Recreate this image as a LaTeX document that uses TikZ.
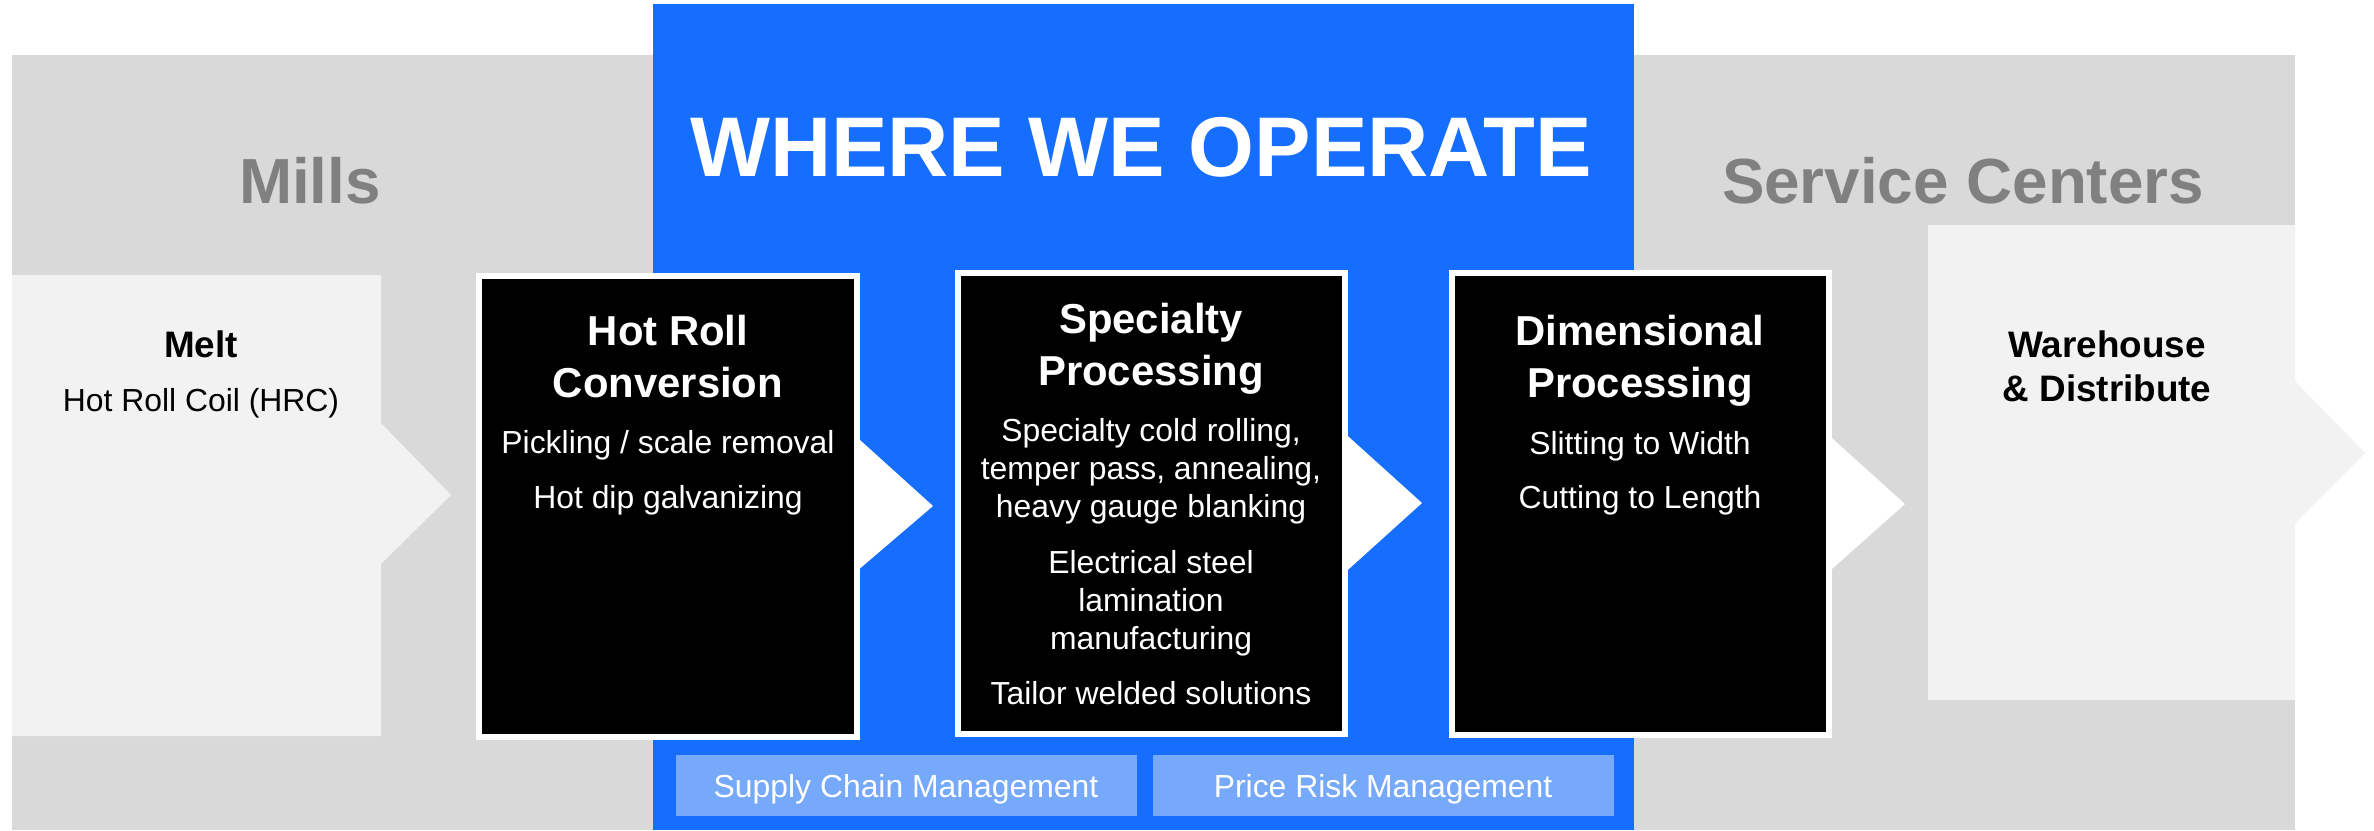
\documentclass[tikz,border=0pt]{standalone}
\usepackage{fontspec}
\setmainfont{Liberation Sans}
\definecolor{band}{HTML}{D9D9D9}
\definecolor{pale}{HTML}{F2F2F2}
\definecolor{opblue}{HTML}{166EFE}
\definecolor{lightblue}{HTML}{76A9FA}
\definecolor{greytext}{HTML}{808080}
\tikzset{
  body/.style={anchor=base, inner sep=0pt, font=\fontsize{32}{38}\selectfont, text=white},
  darkbody/.style={body, text=black},
  boxtitle/.style={anchor=base, inner sep=0pt, font=\bfseries\fontsize{42}{50}\selectfont, text=white},
  paletitle/.style={anchor=base, inner sep=0pt, font=\bfseries\fontsize{37}{44}\selectfont, text=black},
  bandtitle/.style={anchor=base, inner sep=0pt, font=\bfseries\fontsize{64}{70}\selectfont, text=greytext},
  stagebox/.style={fill=black, draw=white, line width=6bp},
  chevron/.style={fill=white},
  palearrow/.style={fill=pale},
  servicebox/.style={fill=lightblue}
}
\begin{document}
\begin{tikzpicture}[x=1bp,y=-1bp]
\useasboundingbox (0,0) rectangle (2374,830);
% background band and blue area
\fill[band] (12,55) rectangle (2295,830);
\fill[opblue] (653,4) rectangle (1634,830);
% pale arrows
\fill[palearrow] (12,275) -- (381,275) -- (381,423) -- (451,495) -- (381,564) -- (381,736) -- (12,736) -- cycle;
\fill[palearrow] (1928,225) -- (2295,225) -- (2295,381) -- (2365,453) -- (2295,523) -- (2295,700) -- (1928,700) -- cycle;
% white chevrons
\fill[chevron] (850,431) -- (933,506) -- (850,577) -- cycle;
\fill[chevron] (1340,429) -- (1422,503) -- (1340,577) -- cycle;
\fill[chevron] (1824,431) -- (1905,504) -- (1824,576) -- cycle;
% stage boxes
\draw[stagebox] (479,276) rectangle (857,737);
\draw[stagebox] (958,273) rectangle (1345,734);
\draw[stagebox] (1452,273) rectangle (1829,735);
% service boxes
\fill[servicebox] (676,755) rectangle (1137,816);
\fill[servicebox] (1153,755) rectangle (1614,816);
% headings
\node[bandtitle] (mills) at (310,203) {Mills};
\node[bandtitle] (service) at (1963,203) {Service Centers};
\node[anchor=base, inner sep=0pt, font=\bfseries\fontsize{85}{90}\selectfont, text=white] (where) at (1141,176) {WHERE WE OPERATE};
% melt
\node[paletitle] (melt) at (201,357) {Melt};
\node[darkbody] (hrc) at (201,411) {Hot Roll Coil (HRC)};
% hot roll conversion
\node[boxtitle] (hr1) at (668,345) {Hot Roll};
\node[boxtitle] (hr2) at (668,397) {Conversion};
\node[body] (hr3) at (668,453) {Pickling / scale removal};
\node[body] (hr4) at (668,508) {Hot dip galvanizing};
% specialty processing
\node[boxtitle] (sp1) at (1151,333) {Specialty};
\node[boxtitle] (sp2) at (1151,385) {Processing};
\node[body] (sp3) at (1151,441) {Specialty cold rolling,};
\node[body] (sp4) at (1151,479) {temper pass, annealing,};
\node[body] (sp5) at (1151,517) {heavy gauge blanking};
\node[body] (sp6) at (1151,573) {Electrical steel};
\node[body] (sp7) at (1151,611) {lamination};
\node[body] (sp8) at (1151,649) {manufacturing};
\node[body] (sp9) at (1151,704) {Tailor welded solutions};
% dimensional processing
\node[boxtitle] (dp1) at (1640,345) {Dimensional};
\node[boxtitle] (dp2) at (1640,397) {Processing};
\node[body] (dp3) at (1640,454) {Slitting to Width};
\node[body] (dp4) at (1640,508) {Cutting to Length};
% warehouse
\node[paletitle] (wh1) at (2107,357) {Warehouse};
\node[paletitle] (wh2) at (2107,401) {\& Distribute};
% services
\node[body] (scm) at (906,797) {Supply Chain Management};
\node[body] (prm) at (1383,797) {Price Risk Management};
\end{tikzpicture}
\end{document}
